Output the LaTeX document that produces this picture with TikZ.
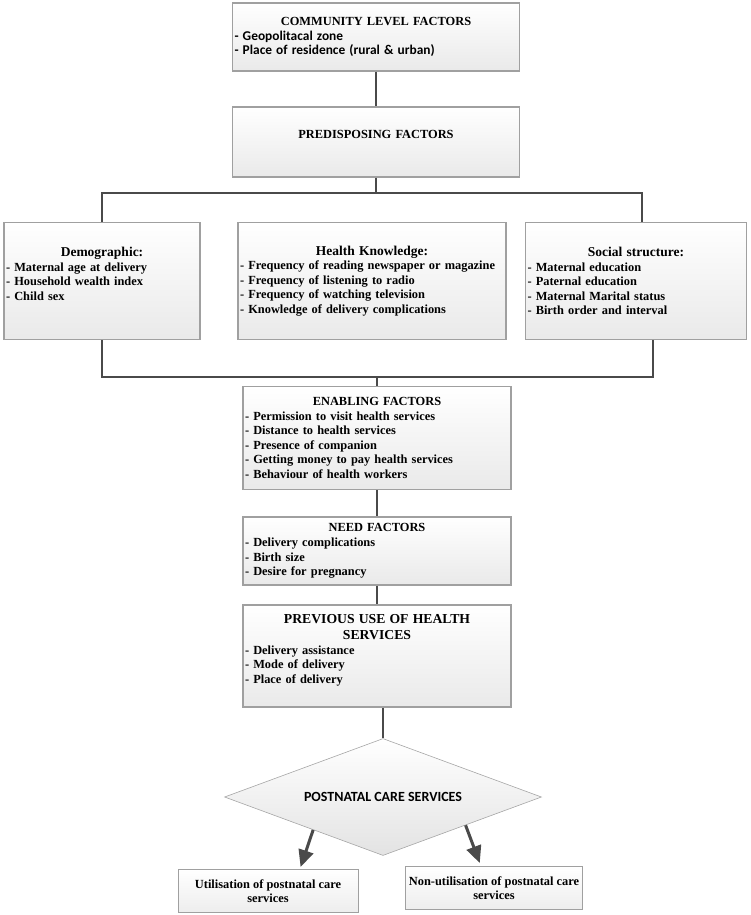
\documentclass[tikz,border=0pt]{standalone}
\usepackage{fontspec}
\setmainfont{Liberation Serif}
\newfontfamily\calibri{Carlito}
\usetikzlibrary{arrows.meta}
\usetikzlibrary{calc}
\usetikzlibrary{shapes.geometric}

\definecolor{linegray}{HTML}{4A4A4A}
\definecolor{rimgray}{HTML}{A0A0A0}

\tikzset{
  factor/.style={draw=rimgray, line width=1.3pt,
    top color=white, bottom color=gray!17, inner xsep=2pt, inner ysep=3pt,
    align=left, font=\bfseries\fontsize{12.4}{14.6}\selectfont},
  outcome/.style={draw=rimgray, line width=1pt, top color=white, bottom color=gray!14,
    align=center, font=\bfseries\fontsize{12.4}{14.6}\selectfont},
  link/.style={draw=linegray, line width=1.1pt},
  bigarrow/.style={draw=linegray, line width=3pt, -{Triangle[length=17pt,width=15pt]}}
}

\begin{document}
\begin{tikzpicture}[x=1pt,y=-1pt]
	\useasboundingbox (0,0) rectangle (750,915);

	\draw (376,37) node (community) [factor, text width=283, minimum height=68] {{\centering COMMUNITY LEVEL FACTORS\par}{\calibri\bfseries\fontsize{13.4}{14.6}\selectfont - Geopolitacal zone\\ - Place of residence (rural \& urban)}};
	\draw (376,142) node (predis) [factor, text width=283, minimum height=70] {{\centering PREDISPOSING FACTORS\par}\mbox{}};

	\draw (102,281) node (demo) [factor, text width=192, minimum height=117] {{\centering\fontsize{13.5}{16}\selectfont Demographic:\par}- Maternal age at delivery\\ - Household wealth index\\ - Child sex\\ \mbox{}};
	\draw (372,281) node (know) [factor, text width=264, minimum height=117] {{\centering\fontsize{13.5}{16}\selectfont Health Knowledge:\par}- Frequency of reading newspaper or magazine\\ - Frequency of listening to radio\\ - Frequency of watching television\\ - Knowledge of delivery complications};
	\draw (636,281) node (social) [factor, text width=217, minimum height=117] {{\centering\fontsize{13.5}{16}\selectfont Social structure:\par}- Maternal education\\ - Paternal education\\ - Maternal Marital status\\ - Birth order and interval};

	\draw (377,438) node (enable) [factor, text width=264, minimum height=103] {{\centering ENABLING FACTORS\par}- Permission to visit health services\\ - Distance to health services\\ - Presence of companion\\ - Getting money to pay health services\\ - Behaviour of health workers};
	\draw (377,551) node (need) [factor, text width=264, minimum height=68] {{\centering NEED FACTORS\par}- Delivery complications\\ - Birth size\\ - Desire for pregnancy};
	\draw (377,656) node (prev) [factor, text width=264, minimum height=102] {{\centering\fontsize{13.7}{16.5}\selectfont PREVIOUS USE OF HEALTH\\ SERVICES\par}- Delivery assistance\\ - Mode of delivery\\ - Place of delivery\\ \mbox{}};

	\draw (383,797) node (post) [shape=diamond, aspect=2.7, draw=gray!70, line width=0.6pt, top color=white, bottom color=gray!22, inner sep=0pt, minimum width=317, minimum height=117, font=\calibri\bfseries\fontsize{14}{16}\selectfont] {POSTNATAL CARE SERVICES};

	\draw (268,891) node (use) [outcome, minimum width=180, minimum height=43] {Utilisation of postnatal care\\ services};
	\draw (494,888) node (nonuse) [outcome, minimum width=175, minimum height=43] {Non-utilisation of postnatal care\\ services};

	% connectors
	\draw[link] (community) -- (predis);
	\coordinate (split) at (predis.south |- 0,193);
	\draw[link] (predis.south) -- (split);
	\draw[link] (demo.north) |- (split) -| ($(social.north)+(6,0)$);
	\coordinate (merge) at (enable.north |- 0,377);
	\draw[link] (demo.south) |- (merge) -| ($(social.south)+(17,0)$);
	\draw[link] (merge) -- (enable.north);
	\draw[link] (enable) -- (need);
	\draw[link] (need) -- (prev);
	\draw[link] (post.north |- prev.south) -- (post.north);

	\draw[bigarrow] ($(post.west)!0.56!(post.south)$) -- ($(use.north west)!0.68!(use.north east)+(0,-2)$);
	\draw[bigarrow] ($(post.east)!0.48!(post.south)$) -- ($(nonuse.north west)!0.42!(nonuse.north east)+(0,-3)$);
\end{tikzpicture}
\end{document}
